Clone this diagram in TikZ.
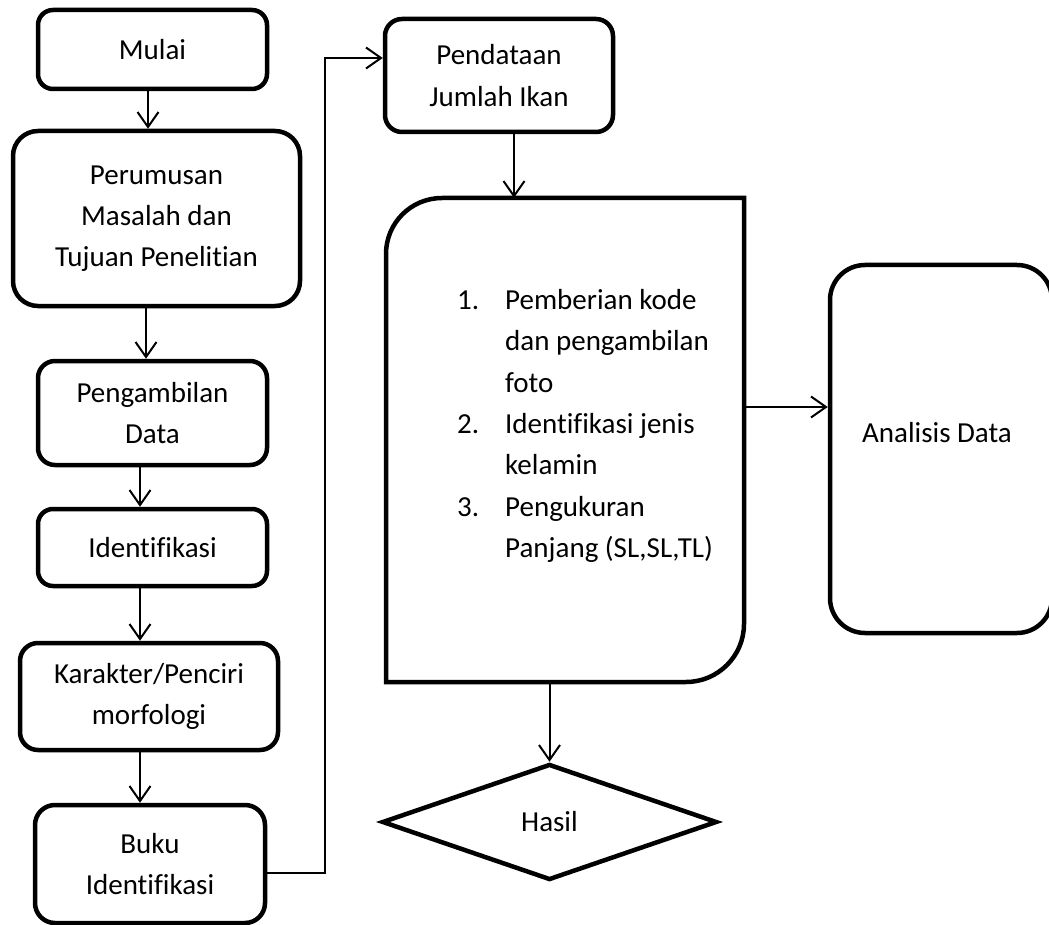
\documentclass[tikz,border=0pt]{standalone}
\usepackage{fontspec}
\setmainfont{Carlito}[Ligatures={NoCommon}]
\usetikzlibrary{arrows.meta,shapes.geometric,calc}
\begin{document}
\begin{tikzpicture}[x=1pt,y=-1pt,
  box/.style={draw,line width=4.5pt,rectangle,inner sep=0pt,align=center,font=\fontsize{29}{41.3}\selectfont},
  arr/.style={line width=2pt,-{Straight Barb[length=15pt,width=21pt]}},
  txt/.style={font=\fontsize{29}{41.3}\selectfont,inner sep=0pt}]
\useasboundingbox (0,0) rectangle (1049,925);
% left column
\node[box,rounded corners=15pt,minimum width=229pt,minimum height=79pt] (mulai) at (152.5,49.5) {Mulai};
\node[box,rounded corners=25pt,minimum width=287pt,minimum height=175pt] (perum) at (156.5,218.5) {Perumusan\\Masalah dan\\Tujuan Penelitian};
\node[box,rounded corners=17pt,minimum width=229pt,minimum height=104pt] (ambil) at (152.5,413) {Pengambilan\\Data};
\node[box,rounded corners=15pt,minimum width=229pt,minimum height=77pt] (ident) at (152.5,547.5) {Identifikasi};
\node[box,rounded corners=18pt,minimum width=258pt,minimum height=107pt] (karak) at (149,696.5) {Karakter/Penciri\\morfologi};
\node[box,rounded corners=20pt,minimum width=230pt,minimum height=118pt] (buku) at (150,864) {Buku\\Identifikasi};
% middle column
\node[box,rounded corners=17pt,minimum width=228pt,minimum height=113pt] (pend) at (499,75.5) {Pendataan\\Jumlah Ikan};
\node[minimum width=358pt,minimum height=484pt,inner sep=0pt] (proc) at (565,440) {};
\draw[line width=4.5pt] (386,682) -- (386,254) .. controls (386,223) and (411,198) .. (442,198) -- (744,198) -- (744,624) .. controls (744,656) and (718,682) .. (686,682) -- cycle;
\node[txt,anchor=west,align=left] (proctext) at (457,426) {\makebox[48pt][l]{1.}Pemberian kode\\\hspace*{48pt}dan pengambilan\\\hspace*{48pt}foto\\\makebox[48pt][l]{2.}Identifikasi jenis\\\hspace*{48pt}kelamin\\\makebox[48pt][l]{3.}Pengukuran\\\hspace*{48pt}Panjang (SL,SL,TL)};
\node[draw,diamond,line width=4.5pt,minimum width=335pt,minimum height=116pt,txt] (hasil) at (549.5,822) {Hasil};
% right
\node[box,rounded corners=35pt,minimum width=222pt,minimum height=368pt] (anal) at (941,449) {};
\node[txt] (analtext) at (937,433) {Analisis Data};
% connectors
\draw[arr] ([xshift=-4.5pt]mulai.south) -- ([xshift=-4.5pt]mulai.south |- perum.north);
\draw[arr] ([xshift=-10.5pt]perum.south) -- ([xshift=-10.5pt]perum.south |- ambil.north);
\draw[arr] ([xshift=-12.5pt]ambil.south) -- ([xshift=-12.5pt]ambil.south |- ident.north);
\draw[arr] ([xshift=-12.5pt]ident.south) -- ([xshift=-12.5pt]ident.south |- karak.north);
\draw[arr] ([xshift=-9pt]karak.south) -- ([xshift=-9pt]karak.south |- buku.north);
\coordinate (jog) at (325,400);
\draw[arr] ([yshift=-9pt]buku.east) -| (jog) |- ([yshift=17.5pt]pend.west);
\draw[arr] ([xshift=15pt]pend.south) -- ([xshift=15pt]pend.south |- proc.north);
\draw[arr] (hasil.north |- proc.south) -- (hasil.north);
\draw[arr] ([yshift=33pt]proc.east) -- ([yshift=33pt]proc.east -| anal.west);
\end{tikzpicture}
\end{document}
